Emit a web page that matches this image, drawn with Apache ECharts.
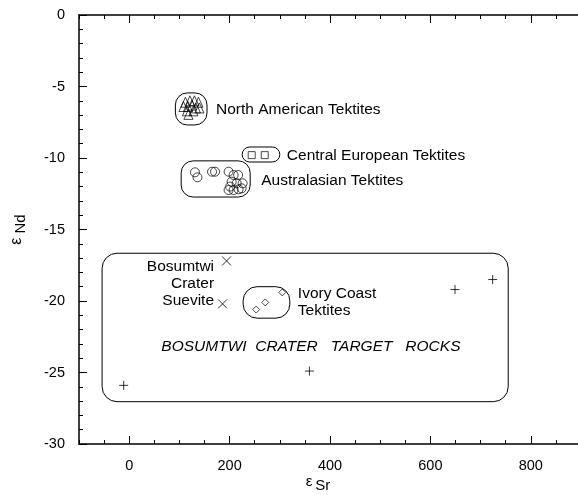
<!DOCTYPE html>
<html>
<head>
<meta charset="utf-8">
<script src="https://cdn.jsdelivr.net/npm/echarts@6/dist/echarts.min.js"></script>
<style>
  html, body { margin: 0; padding: 0; background: #fff; }
  #chart { width: 578px; height: 495px; }
</style>
</head>
<body>
<div id="chart"></div>
<script>
// εSr / εNd isotope data by sample group
const northAmerican = [
  [112, -6.1], [121, -6.0], [130, -6.0], [138, -6.1],
  [108, -6.4], [117, -6.4], [125, -6.3], [133, -6.5], [140, -6.5],
  [115, -6.7], [128, -6.7], [118, -6.95]
];
const centralEuropean = [[244, -9.8], [270, -9.8]];
const australasian = [
  [131, -11.0], [136, -11.35], [165, -10.96], [171, -10.96], [198, -10.96],
  [208, -11.19], [217, -11.19], [204, -11.66], [214, -11.77], [226, -11.77],
  [201, -12.0], [208, -12.24], [218, -12.19], [224, -12.12], [198, -12.24]
];
const ivoryCoast = [[253, -20.6], [271, -20.1], [305, -19.4]];
const suevite = [[194, -17.2], [186, -20.2]];
const targetRocks = [[724, -18.5], [649, -19.2], [359, -24.9], [-11, -25.9]];

// Group outlines in data units: [xMin, yTop, xMax, yBottom]
const groupOutlines = [
  [92, -5.45, 155, -7.69],      // North American
  [225, -9.23, 300, -10.28],    // Central European
  [103.5, -10.2, 241, -12.73],  // Australasian
  [227, -19.0, 320, -21.2],     // Ivory Coast
  [-54, -16.66, 755, -27.04]    // Bosumtwi target rocks
];

// Annotation texts and their anchor points in data units
const labelTexts = [
  'North American Tektites',
  'Central European Tektites',
  'Australasian Tektites',
  'Ivory Coast\nTektites',
  'Bosumtwi\nCrater\nSuevite',
  'BOSUMTWI  CRATER   TARGET   ROCKS'
];
const labelAnchors = [
  [173, -6.6], [314, -9.82], [263, -11.57], [336, -20.08], [169, -18.78], [362, -23.2]
];

// Axis tick values
const xLabelValues = [0, 200, 400, 600, 800];
const yMin = -30, yMax = 0, yStep = 5;
const xMin = -100, xMax = 900, xMinorStep = 50;

const FONT = "'Liberation Sans', Arial, Helvetica, sans-serif";
const outlineRadii = [12, 8, 12, 14, 15];
const labelStyles = [
  { align: 'left' }, { align: 'left' }, { align: 'left' }, { align: 'left' },
  { align: 'right' }, { align: 'center', fontStyle: 'italic' }
];

const chart = echarts.init(document.getElementById('chart'), null, { renderer: 'canvas' });

const hollow = { color: 'rgba(0,0,0,0)', borderColor: '#000', borderWidth: 0.9 };
const strokeOnly = { color: 'rgba(0,0,0,0)', borderColor: '#000', borderWidth: 1 };

function xAxisDef(position, major, showLine) {
  return {
    type: 'value', min: xMin, max: xMax, position: position,
    interval: major ? undefined : xMinorStep,
    axisLine: { show: showLine, onZero: false, lineStyle: { color: '#000', width: 1.5 } },
    axisTick: major
      ? { show: true, inside: true, length: 8, customValues: xLabelValues, lineStyle: { color: '#000', width: 1 } }
      : { show: true, inside: true, length: 4, lineStyle: { color: '#000', width: 1 } },
    axisLabel: (major && position === 'bottom')
      ? { show: true, customValues: xLabelValues, margin: 14, color: '#000', fontSize: 14.5, fontFamily: FONT }
      : { show: false },
    splitLine: { show: false }
  };
}

chart.setOption({
  animation: false,
  backgroundColor: '#fff',
  grid: { left: 79, top: 15, right: -3, bottom: 51, containLabel: false, outerBoundsMode: 'none' },
  xAxis: [
    Object.assign(xAxisDef('bottom', false, true), {
      name: '{e|ε}{s|Sr}', nameLocation: 'middle', nameGap: 30,
      nameTextStyle: {
        padding: [0, 24, 0, 0],
        rich: {
          e: { fontSize: 15, fontFamily: FONT, color: '#000', padding: [0, 3, 8, 0] },
          s: { fontSize: 15, fontFamily: FONT, color: '#000' }
        }
      }
    }),
    xAxisDef('bottom', true, false),
    xAxisDef('top', false, true),
    xAxisDef('top', true, false)
  ],
  yAxis: [{
    type: 'value', min: yMin, max: yMax, interval: yStep, position: 'left',
    axisLine: { show: true, onZero: false, lineStyle: { color: '#000', width: 1.5 } },
    axisTick: { show: true, inside: true, length: 8, lineStyle: { color: '#000', width: 1 } },
    minorTick: { show: true, splitNumber: 5, length: 4, lineStyle: { color: '#000', width: 1 } },
    axisLabel: { color: '#000', fontSize: 14.5, fontFamily: FONT, margin: 14 },
    splitLine: { show: false },
    minorSplitLine: { show: false },
    name: '{e|ε}{s|Nd}', nameLocation: 'middle', nameGap: 46, nameRotate: 90,
    nameTextStyle: {
      rich: {
        e: { fontSize: 16, fontFamily: FONT, color: '#000', padding: [0, 4, 8, 0] },
        s: { fontSize: 15, fontFamily: FONT, color: '#000' }
      }
    }
  }],
  series: [
    {
      type: 'custom', name: 'outlines', silent: true, z: 1,
      encode: { x: [0, 2], y: [1, 3] },
      data: groupOutlines,
      renderItem: function (params, api) {
        const p0 = api.coord([api.value(0), api.value(1)]);
        const p1 = api.coord([api.value(2), api.value(3)]);
        const x = Math.min(p0[0], p1[0]), y = Math.min(p0[1], p1[1]);
        const w = Math.abs(p1[0] - p0[0]), h = Math.abs(p1[1] - p0[1]);
        return {
          type: 'rect',
          shape: { x: x, y: y, width: w, height: h, r: Math.min(outlineRadii[params.dataIndex], h / 2) },
          style: { fill: 'none', stroke: '#000', lineWidth: 1 }
        };
      }
    },
    {
      type: 'custom', name: 'labels', silent: true, z: 3,
      encode: { x: 0, y: 1 },
      data: labelAnchors.map(function (a, i) { return [a[0], a[1], i]; }),
      renderItem: function (params, api) {
        const i = api.value(2);
        const p = api.coord([api.value(0), api.value(1)]);
        const st = labelStyles[i];
        return {
          type: 'text', x: p[0], y: p[1],
          style: {
            text: labelTexts[i], fill: '#000', fontSize: 15.5, fontFamily: FONT,
            fontStyle: st.fontStyle || 'normal',
            align: st.align, verticalAlign: 'middle', lineHeight: 17
          }
        };
      }
    },
    { type: 'scatter', name: 'North American Tektites', data: northAmerican, symbol: 'triangle', symbolSize: [9, 10], itemStyle: hollow, z: 2 },
    { type: 'scatter', name: 'Central European Tektites', data: centralEuropean, symbol: 'rect', symbolSize: 7, itemStyle: hollow, z: 2 },
    { type: 'scatter', name: 'Australasian Tektites', data: australasian, symbol: 'circle', symbolSize: 9, itemStyle: hollow, z: 2 },
    { type: 'scatter', name: 'Ivory Coast Tektites', data: ivoryCoast, symbol: 'diamond', symbolSize: 7, itemStyle: hollow, z: 2 },
    { type: 'scatter', name: 'Bosumtwi Crater Suevite', data: suevite, symbol: 'path://M0,0L10,10M10,0L0,10', symbolSize: 9, itemStyle: strokeOnly, z: 2 },
    { type: 'scatter', name: 'Bosumtwi Crater Target Rocks', data: targetRocks, symbol: 'path://M5,0L5,10M0,5L10,5', symbolSize: 9, itemStyle: strokeOnly, z: 2 }
  ]
});
</script>
</body>
</html>
